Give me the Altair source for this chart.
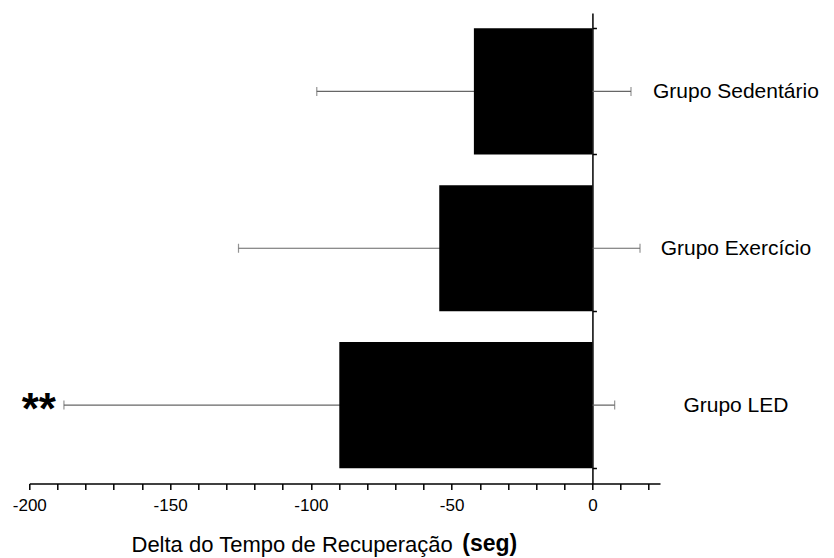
import altair as alt
import pandas as pd

# Recovery-time change per group (mean and standard deviation, seconds)
groups = ["Grupo Sedentário", "Grupo Exercício", "Grupo LED"]
means = [-42.1, -54.4, -89.9]
sds = [55.8, 71.3, 97.8]
marks = ["", "", "**"]

df = pd.DataFrame({"grupo": groups, "media": means, "dp": sds, "sig": marks})
df["lo"] = df["media"] - df["dp"]
df["hi"] = df["media"] + df["dp"]

FONT = "Liberation Sans"
X_MIN, X_MAX = -200, 24
W, H = 630.7, 470.5
PAD_L, PAD_T = 29.3, 13

xscale = alt.Scale(domain=[X_MIN, X_MAX], nice=False, zero=False)
yscale = alt.Scale(domain=groups, paddingInner=0.196, paddingOuter=0.098)

# pixel distance from the right edge of the plot to x = 0
zero_px = (0 - X_MIN) / (X_MAX - X_MIN) * W
right_offset = -(W - zero_px)

x_axis = alt.Axis(
    values=list(range(-200, 30, 10)),
    labelExpr="datum.value % 50 == 0 ? toString(datum.value) : ''",
    labelOverlap=False, labelFlush=False,
    grid=False, tickSize=6, tickWidth=1.5, tickColor="black",
    domainColor="black", domainWidth=1.5,
    labelFont=FONT, labelFontSize=17, labelColor="black", labelPadding=8,
    title="Delta do Tempo de Recuperação", titleFont=FONT, titleFontSize=22,
    titleFontWeight="normal", titleColor="black",
    titleAlign="left", titleBaseline="middle", titleAnchor="start",
    titleX=101.7, titleY=60.5,
)

y_axis = alt.Axis(
    orient="right", offset=right_offset, title=None, grid=False,
    tickBand="extent", tickSize=4, tickWidth=1.5, tickColor="black",
    domainColor="black", domainWidth=1.5, labelOverlap=False,
    labelFont=FONT, labelFontSize=21, labelColor="black",
    labelAlign="center", labelPadding=139, labelBaseline="middle",
)


def xenc(field):
    return alt.X(field, scale=xscale, axis=x_axis)


yenc = alt.Y("grupo:N", scale=yscale, axis=y_axis, sort=groups)

base = alt.Chart(df)

# error line drawn first so the bar covers its inner half
err = base.mark_rule(color="#666666", strokeWidth=1.2).encode(
    x=xenc("lo:Q"), x2="hi:Q", y=yenc,
)

bars = base.mark_bar(color="black").encode(
    x=xenc("media:Q"), x2=alt.datum(0), y=yenc,
)

cap_lo = base.mark_tick(color="#666666", thickness=1.2, size=9).encode(
    x=xenc("lo:Q"), y=yenc,
)
cap_hi = base.mark_tick(color="#666666", thickness=1.2, size=9).encode(
    x=xenc("hi:Q"), y=yenc,
)

stars = base.mark_text(
    font=FONT, fontSize=44, fontWeight="bold", color="black",
    align="right", baseline="alphabetic", dx=-8, dy=19,
).encode(x=xenc("lo:Q"), y=yenc, text="sig:N")

unit = alt.Chart(pd.DataFrame({"t": ["(seg)"]})).mark_text(
    font=FONT, fontSize=23, fontWeight="bold", color="black",
    align="left", baseline="middle",
).encode(x=alt.value(433), y=alt.value(531), text="t:N")

chart = alt.layer(err, bars, cap_lo, cap_hi, stars, unit).properties(
    width=W, height=H,
    autosize=alt.AutoSizeParams(type="none"),
    padding={"left": PAD_L, "top": PAD_T, "right": 834 - PAD_L - W, "bottom": 558 - PAD_T - H},
).configure(background="white").configure_view(stroke=None, strokeWidth=0)

chart.save("out.html", embed_options={"renderer": "svg", "actions": False})
